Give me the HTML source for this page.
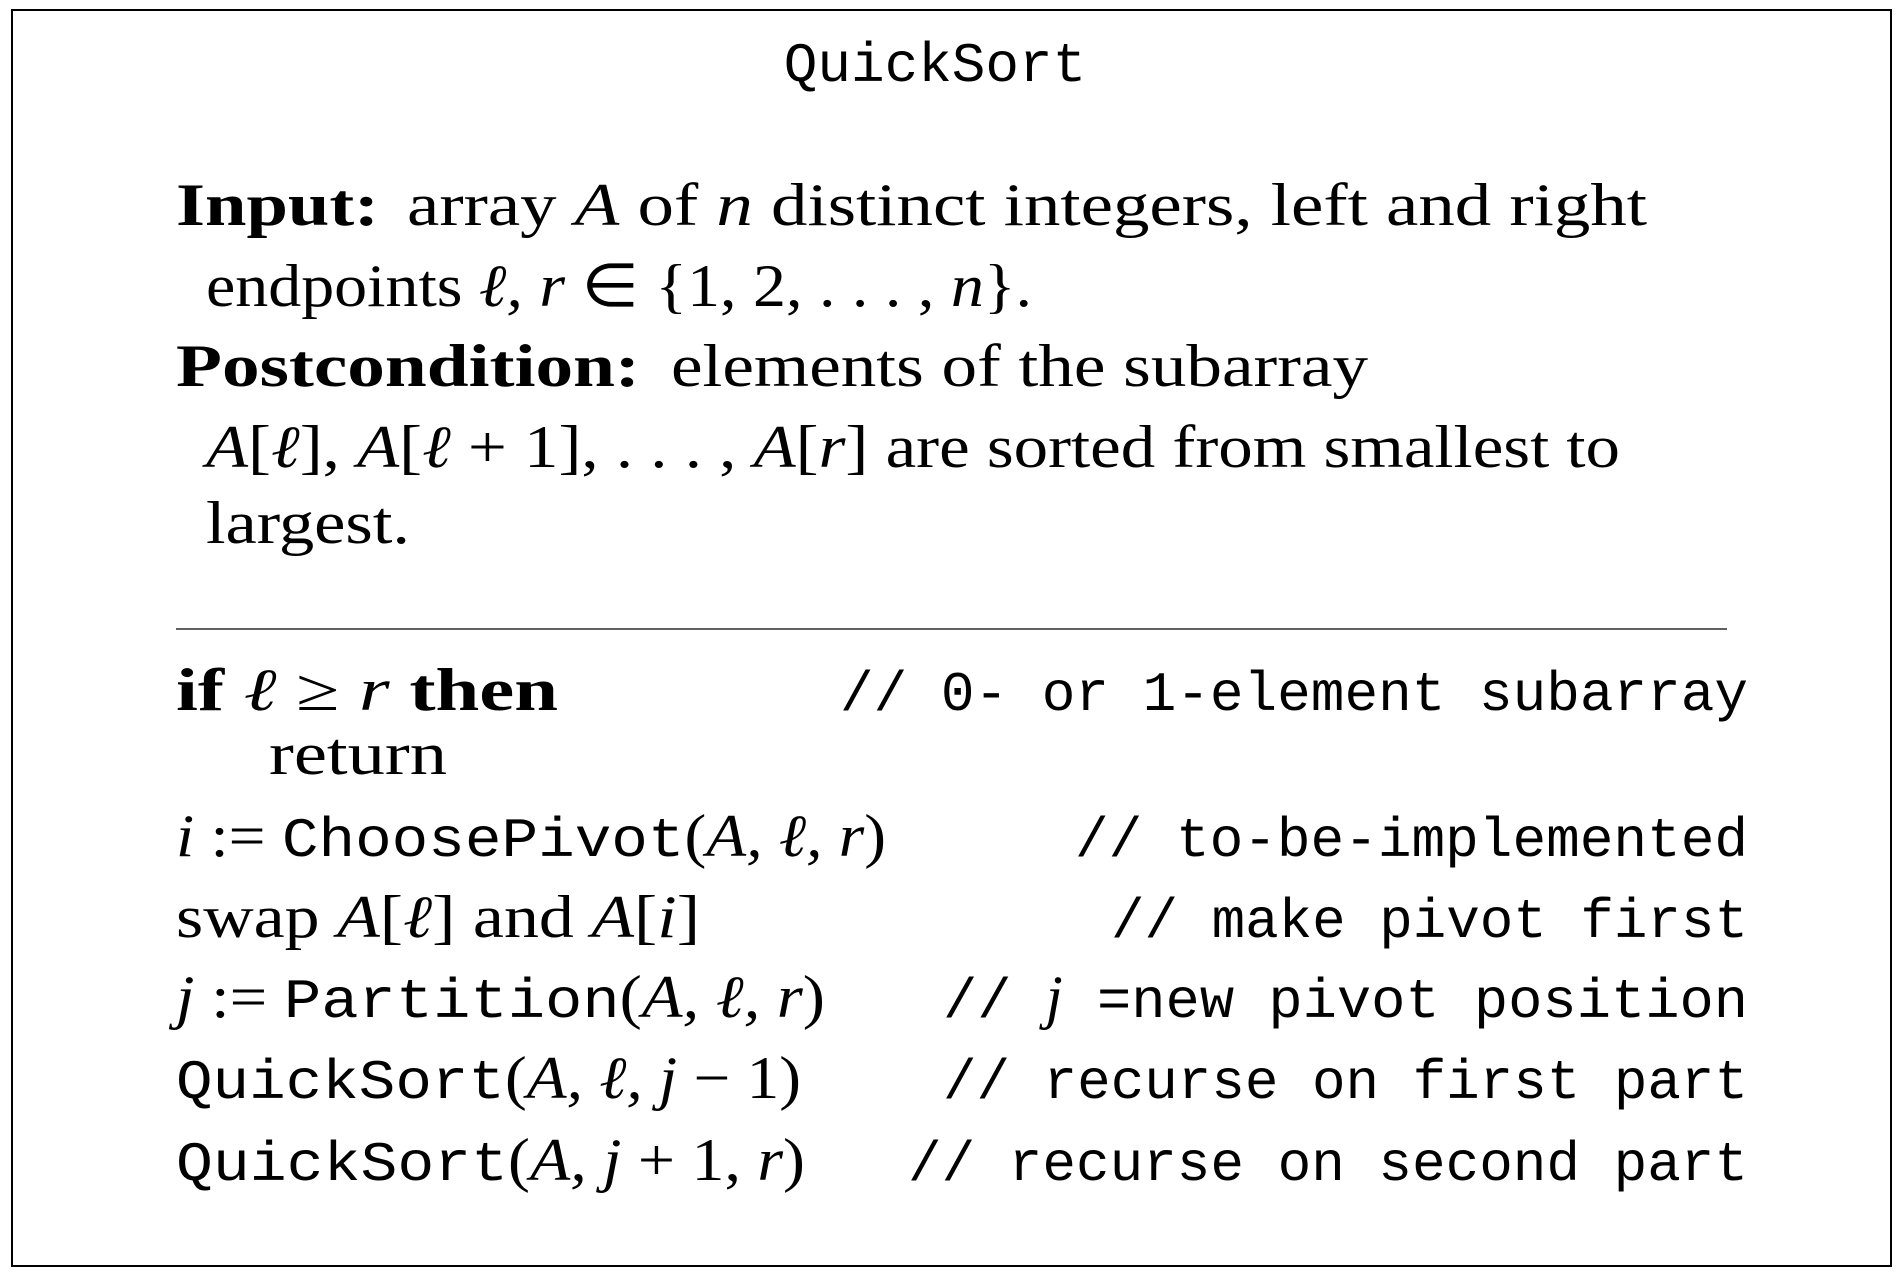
<!DOCTYPE html>
<html><head><meta charset="utf-8"><style>
html,body{margin:0;padding:0;background:#fff;}
svg{display:block;}
.s{font-family:"Liberation Serif",serif;font-size:60px;fill:#000;}
.m{font-family:"Liberation Mono",monospace;font-size:56px;fill:#000;}
.b{font-weight:bold;}
.i{font-style:italic;}
</style></head><body>
<svg width="1903" height="1281" viewBox="0 0 1903 1281">
<rect x="12" y="10" width="1879" height="1256" fill="#fff" stroke="#000" stroke-width="2"/>
<text class="m" x="935" y="81" text-anchor="middle">QuickSort</text>

<text class="s b" x="176" y="225" textLength="203" lengthAdjust="spacingAndGlyphs">Input:</text>
<text class="s" x="407" y="225" textLength="1240" lengthAdjust="spacingAndGlyphs">array <tspan class="i">A</tspan> of <tspan class="i">n</tspan> distinct integers, left and right</text>
<text class="s" x="206" y="306" textLength="826" lengthAdjust="spacingAndGlyphs">endpoints <tspan class="i">ℓ, r</tspan> ∈ {1, 2, . . . , <tspan class="i">n</tspan>}.</text>
<text class="s b" x="176" y="386" textLength="464" lengthAdjust="spacingAndGlyphs">Postcondition:</text>
<text class="s" x="671" y="386" textLength="697" lengthAdjust="spacingAndGlyphs">elements of the subarray</text>
<text class="s" x="206" y="467" textLength="1414" lengthAdjust="spacingAndGlyphs"><tspan class="i">A</tspan>[<tspan class="i">ℓ</tspan>], <tspan class="i">A</tspan>[<tspan class="i">ℓ</tspan> + 1], . . . , <tspan class="i">A</tspan>[<tspan class="i">r</tspan>] are sorted from smallest to</text>
<text class="s" x="206" y="543" textLength="204" lengthAdjust="spacingAndGlyphs">largest.</text>

<line x1="176" y1="629" x2="1727" y2="629" stroke="#000" stroke-width="1.3"/>

<text class="s" x="176" y="710" textLength="382" lengthAdjust="spacingAndGlyphs"><tspan class="b">if</tspan> <tspan class="i">ℓ</tspan> ≥ <tspan class="i">r</tspan> <tspan class="b">then</tspan></text>
<text class="m" x="840" y="710" textLength="908" lengthAdjust="spacingAndGlyphs">// 0- or 1-element subarray</text>
<text class="s" x="269" y="774" textLength="178" lengthAdjust="spacingAndGlyphs">return</text>

<text class="s" x="176" y="856" textLength="710" lengthAdjust="spacingAndGlyphs"><tspan class="i">i</tspan> := <tspan class="m">ChoosePivot</tspan>(<tspan class="i">A, ℓ, r</tspan>)</text>
<text class="m" x="1075" y="856" textLength="673" lengthAdjust="spacingAndGlyphs">// to-be-implemented</text>

<text class="s" x="176" y="937" textLength="524" lengthAdjust="spacingAndGlyphs">swap <tspan class="i">A</tspan>[<tspan class="i">ℓ</tspan>] and <tspan class="i">A</tspan>[<tspan class="i">i</tspan>]</text>
<text class="m" x="1111" y="937" textLength="637" lengthAdjust="spacingAndGlyphs">// make pivot first</text>

<text class="s" x="176" y="1017" textLength="649" lengthAdjust="spacingAndGlyphs"><tspan class="i">j</tspan> := <tspan class="m">Partition</tspan>(<tspan class="i">A, ℓ, r</tspan>)</text>
<text class="m" x="943" y="1017" textLength="805" lengthAdjust="spacingAndGlyphs">// <tspan class="s i">j</tspan> =new pivot position</text>

<text class="s" x="176" y="1098" textLength="625" lengthAdjust="spacingAndGlyphs"><tspan class="m">QuickSort</tspan>(<tspan class="i">A, ℓ, j</tspan> − 1)</text>
<text class="m" x="943" y="1098" textLength="805" lengthAdjust="spacingAndGlyphs">// recurse on first part</text>

<text class="s" x="176" y="1180" textLength="629" lengthAdjust="spacingAndGlyphs"><tspan class="m">QuickSort</tspan>(<tspan class="i">A, j</tspan> + 1, <tspan class="i">r</tspan>)</text>
<text class="m" x="908" y="1180" textLength="840" lengthAdjust="spacingAndGlyphs">// recurse on second part</text>
</svg>
</body></html>
